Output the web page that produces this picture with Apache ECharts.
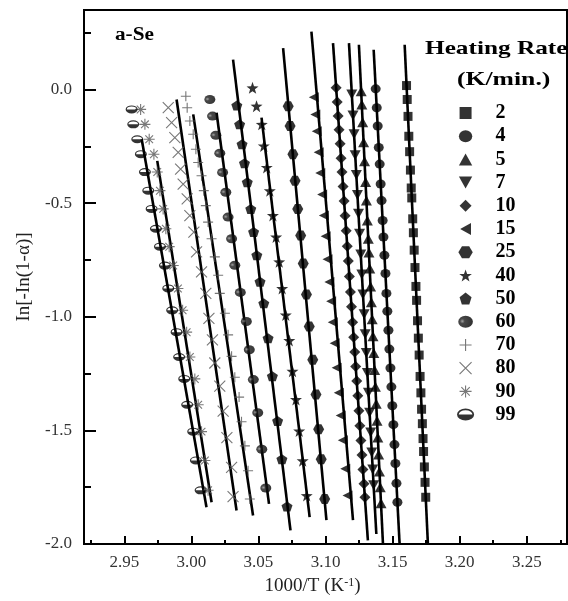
<!DOCTYPE html>
<html><head><meta charset="utf-8">
<script src="https://cdn.jsdelivr.net/npm/echarts@6/dist/echarts.min.js"></script>
<style>html,body{margin:0;padding:0;background:#fff}#c{width:568px;height:601px}</style>
</head><body><div id="c"></div>
<script>
// ---- data ----
const rates = ['2','4','5','7','10','15','25','40','50','60','70','80','90','99'];
const xMajorTicks = [2.95,3.00,3.05,3.10,3.15,3.20,3.25];
const xMinorTicks = [2.925,2.975,3.025,3.075,3.125,3.175,3.225,3.275];
const yMajorTicks = [-2.0,-1.5,-1.0,-0.5,0.0];
const yMinorTicks = [-1.75,-1.25,-0.75,-0.25,0.25];

const pts2 = [[3.1604,0.0175],[3.1609,-0.0438],[3.1615,-0.1182],[3.1621,-0.2057],[3.1627,-0.2735],[3.1633,-0.3545],[3.1639,-0.4333],[3.1643,-0.4770],[3.1650,-0.5689],[3.1655,-0.6302],[3.1661,-0.7068],[3.1667,-0.7834],[3.1674,-0.8665],[3.1679,-0.9278],[3.1686,-1.0175],[3.1692,-1.0941],[3.1698,-1.1685],[3.1705,-1.2626],[3.1711,-1.3348],[3.1716,-1.4070],[3.1722,-1.4705],[3.1727,-1.5361],[3.1731,-1.5930],[3.1737,-1.6608],[3.1742,-1.7287],[3.1747,-1.7943]];
const pts4 = [[3.1374,0.0031],[3.1382,-0.0801],[3.1389,-0.1606],[3.1397,-0.2551],[3.1404,-0.3282],[3.1411,-0.4158],[3.1418,-0.4888],[3.1426,-0.5764],[3.1432,-0.6490],[3.1439,-0.7295],[3.1447,-0.8096],[3.1454,-0.8972],[3.1461,-0.9759],[3.1469,-1.0591],[3.1476,-1.1422],[3.1484,-1.2254],[3.1491,-1.3085],[3.1498,-1.3917],[3.1506,-1.4748],[3.1514,-1.5624],[3.1521,-1.6455],[3.1529,-1.7330],[3.1536,-1.8162]];
const pts5 = [[3.1266,-0.0074],[3.1271,-0.0656],[3.1277,-0.1444],[3.1284,-0.2319],[3.1291,-0.3151],[3.1299,-0.4070],[3.1305,-0.4888],[3.1312,-0.5764],[3.1319,-0.6565],[3.1324,-0.7177],[3.1330,-0.7877],[3.1336,-0.8665],[3.1342,-0.9365],[3.1348,-1.0109],[3.1354,-1.0853],[3.1360,-1.1597],[3.1366,-1.2341],[3.1372,-1.3085],[3.1378,-1.3829],[3.1384,-1.4573],[3.1390,-1.5317],[3.1396,-1.6061],[3.1402,-1.6805],[3.1408,-1.7505],[3.1414,-1.8206]];
const pts7 = [[3.1196,-0.0219],[3.1205,-0.1138],[3.1213,-0.1969],[3.1221,-0.2888],[3.1230,-0.3764],[3.1238,-0.4639],[3.1246,-0.5470],[3.1254,-0.6346],[3.1263,-0.7265],[3.1271,-0.8140],[3.1279,-0.9015],[3.1288,-0.9891],[3.1296,-1.0766],[3.1304,-1.1597],[3.1312,-1.2473],[3.1320,-1.3348],[3.1329,-1.4223],[3.1337,-1.5098],[3.1345,-1.5974],[3.1352,-1.6718],[3.1359,-1.7418]];
const pts10 = [[3.1079,0.0074],[3.1087,-0.0547],[3.1094,-0.1160],[3.1101,-0.1772],[3.1109,-0.2385],[3.1116,-0.3020],[3.1123,-0.3632],[3.1131,-0.4267],[3.1139,-0.4902],[3.1146,-0.5558],[3.1154,-0.6214],[3.1162,-0.6893],[3.1170,-0.7549],[3.1178,-0.8228],[3.1186,-0.8906],[3.1194,-0.9562],[3.1202,-1.0241],[3.1210,-1.0897],[3.1218,-1.1554],[3.1225,-1.2188],[3.1233,-1.2823],[3.1241,-1.3479],[3.1249,-1.4136],[3.1256,-1.4792],[3.1264,-1.5449],[3.1272,-1.6083],[3.1279,-1.6718],[3.1287,-1.7352],[3.1294,-1.7943]];
const pts15 = [[3.0913,-0.0337],[3.0924,-0.1094],[3.0935,-0.1838],[3.0949,-0.2757],[3.0961,-0.3676],[3.0975,-0.4617],[3.0988,-0.5540],[3.1001,-0.6460],[3.1015,-0.7466],[3.1029,-0.8473],[3.1042,-0.9313],[3.1054,-1.0236],[3.1068,-1.1160],[3.1083,-1.2249],[3.1099,-1.3339],[3.1113,-1.4346],[3.1129,-1.5435],[3.1147,-1.6691],[3.1164,-1.7869]];
const pts25 = [[3.0722,-0.0731],[3.0736,-0.1606],[3.0757,-0.2845],[3.0773,-0.4013],[3.0793,-0.5252],[3.0815,-0.6420],[3.0834,-0.7659],[3.0858,-0.9015],[3.0879,-1.0429],[3.0905,-1.1891],[3.0929,-1.3422],[3.0949,-1.4954],[3.0968,-1.6267],[3.0994,-1.8018]];
const pts40 = [[3.0456,0.0074],[3.0486,-0.0731],[3.0525,-0.1532],[3.0540,-0.2481],[3.0562,-0.3427],[3.0585,-0.4451],[3.0608,-0.5545],[3.0632,-0.6490],[3.0655,-0.7584],[3.0677,-0.8753],[3.0704,-0.9921],[3.0730,-1.1042],[3.0754,-1.2398],[3.0780,-1.3641],[3.0804,-1.5024],[3.0830,-1.6337],[3.0860,-1.7869]];
const pts50 = [[3.0339,-0.0700],[3.0360,-0.1532],[3.0378,-0.2407],[3.0396,-0.3239],[3.0417,-0.4083],[3.0443,-0.5252],[3.0464,-0.6271],[3.0488,-0.7295],[3.0512,-0.8460],[3.0540,-0.9409],[3.0572,-1.0941],[3.0604,-1.2617],[3.0643,-1.4587],[3.0675,-1.6267],[3.0713,-1.8350]];
const pts60 = [[3.0138,-0.0438],[3.0158,-0.1168],[3.0183,-0.2013],[3.0212,-0.2801],[3.0233,-0.3646],[3.0257,-0.4521],[3.0274,-0.5615],[3.0300,-0.6565],[3.0324,-0.7733],[3.0365,-0.8928],[3.0410,-1.0210],[3.0432,-1.1453],[3.0462,-1.2766],[3.0495,-1.4223],[3.0525,-1.5829],[3.0555,-1.7536]];
const pts70 = [[2.9959,-0.0293],[2.9969,-0.0801],[2.9989,-0.1387],[3.0014,-0.1969],[3.0034,-0.2626],[3.0051,-0.3208],[3.0076,-0.3794],[3.0093,-0.4451],[3.0108,-0.5107],[3.0125,-0.5834],[3.0151,-0.6565],[3.0175,-0.7365],[3.0200,-0.8171],[3.0212,-0.8972],[3.0250,-0.9847],[3.0274,-1.0796],[3.0300,-1.1742],[3.0324,-1.2661],[3.0356,-1.3536],[3.0374,-1.4617],[3.0399,-1.5681],[3.0423,-1.6775],[3.0436,-1.8018]];
const pts80 = [[2.9828,-0.0801],[2.9853,-0.1457],[2.9877,-0.2114],[2.9902,-0.2770],[2.9920,-0.3501],[2.9939,-0.4158],[2.9969,-0.4814],[2.9989,-0.5545],[3.0019,-0.6271],[3.0039,-0.7147],[3.0076,-0.8022],[3.0108,-0.8972],[3.0131,-1.0066],[3.0157,-1.1015],[3.0175,-1.2035],[3.0212,-1.3055],[3.0237,-1.4149],[3.0265,-1.5317],[3.0300,-1.6630],[3.0311,-1.7912]];
const pts90 = [[2.9622,-0.0875],[2.9654,-0.1532],[2.9686,-0.2188],[2.9721,-0.2845],[2.9746,-0.3632],[2.9766,-0.4451],[2.9790,-0.5252],[2.9810,-0.6127],[2.9835,-0.6915],[2.9865,-0.7746],[2.9900,-0.8753],[2.9935,-0.9716],[2.9965,-1.0678],[2.9989,-1.1772],[3.0026,-1.2735],[3.0051,-1.3873],[3.0076,-1.5055],[3.0101,-1.6324],[3.0125,-1.7637]];
const pts99 = [[2.9555,-0.0875],[2.9567,-0.1532],[2.9597,-0.2188],[2.9624,-0.2845],[2.9654,-0.3632],[2.9679,-0.4451],[2.9704,-0.5252],[2.9736,-0.6127],[2.9766,-0.6915],[2.9803,-0.7746],[2.9828,-0.8753],[2.9857,-0.9716],[2.9890,-1.0678],[2.9909,-1.1772],[2.9947,-1.2735],[2.9969,-1.3873],[3.0014,-1.5055],[3.0034,-1.6324],[3.0069,-1.7637]];

// fitted straight lines (end points)
const fit2 = [[3.1590,0.1969],[3.1763,-1.9956]];
const fit4 = [[3.1359,0.1751],[3.1552,-1.9956]];
const fit5 = [[3.1249,0.1969],[3.1428,-1.9956]];
const fit7 = [[3.1175,0.2044],[3.1379,-1.9562]];
const fit10 = [[3.1056,0.2044],[3.1316,-1.9838]];
const fit15 = [[3.0895,0.2551],[3.1205,-1.8950]];
const fit25 = [[3.0684,0.1825],[3.1007,-1.8950]];
const fit40 = [[3.0523,-0.1239],[3.0882,-1.8818]];
const fit50 = [[3.0311,0.1313],[3.0739,-1.9400]];
const fit60 = [[3.0188,-0.1020],[3.0579,-1.8236]];
const fit70 = [[3.0014,-0.1094],[3.0460,-1.8744]];
const fit80 = [[2.9890,-0.0438],[3.0337,-1.8525]];
const fit90 = [[2.9746,-0.3138],[3.0151,-1.8162]];
const fit99 = [[2.9630,-0.2188],[3.0113,-1.8381]];

const pointSets = [pts2,pts4,pts5,pts7,pts10,pts15,pts25,pts40,pts50,pts60,pts70,pts80,pts90,pts99];
const fitSets = [fit2,fit4,fit5,fit7,fit10,fit15,fit25,fit40,fit50,fit60,fit70,fit80,fit90,fit99];

// ---- styles ----
const SERIF = '"Liberation Serif","Times New Roman",serif';
const black = {color:'#000'};
const thin = {color:'rgba(0,0,0,0)', borderColor:'#555', borderWidth:1.1};
const ball = {color: new echarts.graphic.RadialGradient(0.28, 0.45, 0.8, [
  {offset:0, color:'#8a8a8a'}, {offset:0.25, color:'#1a1a1a'}, {offset:1, color:'#000'}])};
const halfEllipse = 'path://M0,7A10,7 0 1,1 20,7A10,7 0 1,1 0,7Z M2,7A8,5 0 1,0 18,7A8,5 0 1,0 2,7Z M2,7L18,7A8,5 0 0,1 2,7Z';
const markerDefs = [
  {symbol:'path://M0,0L10,0L10,10L0,10Z', size:[9,9], style:black},
  {symbol:'path://M0,4.5A5,4.5 0 1,1 10,4.5A5,4.5 0 1,1 0,4.5Z', size:[10,9], style:black},
  {symbol:'path://M5,0L10,9L0,9Z', size:[11,10], style:black},
  {symbol:'path://M0,0L10,0L5,9Z', size:[11,10], style:black},
  {symbol:'path://M5,0L10,5L5,10L0,5Z', size:[11,11], style:black},
  {symbol:'path://M0,5L9,0L9,10Z', size:[10,10], style:black},
  {symbol:'path://M3,0L9,0L12,5L9,10L3,10L0,5Z', size:[11,10], style:black},
  {symbol:'path://M5,0L6.18,3.38L9.76,3.46L6.9,5.62L7.94,9.05L5,7L2.06,9.05L3.1,5.62L0.24,3.46L3.82,3.38Z', size:[12,12], style:black},
  {symbol:'path://M5,0L10,3.8L8.1,10L1.9,10L0,3.8Z', size:[11,10], style:black},
  {symbol:'path://M0,4.5A5.5,4.5 0 1,1 11,4.5A5.5,4.5 0 1,1 0,4.5Z', size:[11,9], style:ball},
  {symbol:'path://M5,0L5,10M0,5L10,5', size:[10,10], style:thin},
  {symbol:'path://M0,0L10,10M10,0L0,10', size:[11,11], style:thin},
  {symbol:'path://M5,0L5,10M0,5L10,5M1.5,1.5L8.5,8.5M8.5,1.5L1.5,8.5', size:[11,11], style:thin},
  {symbol:halfEllipse, size:[12,8], style:black}
];

const series = [];
rates.forEach((r,i)=>{
  series.push({name:'fit '+r, type:'line', data:fitSets[i], symbol:'none', silent:true,
    lineStyle:{color:'#000', width:2.6}, z:2, animation:false});
});
rates.forEach((r,i)=>{
  const m = markerDefs[i];
  series.push({name:r, type:'scatter', data:pointSets[i], symbol:m.symbol, symbolSize:m.size,
    itemStyle:m.style, z:3, animation:false});
});

const legendData = rates.map((r,i)=>{
  const m = markerDefs[i];
  return m.style===thin ? {name:r, itemStyle:{borderWidth:1.1, borderColor:'#555'}} : {name:r};
});

const chart = echarts.init(document.getElementById('c'), null, {renderer:'canvas'});
chart.setOption({
  animation:false,
  backgroundColor:'#fff',
  grid:{left:84, right:1, top:10, bottom:55, show:true, borderColor:'#000', borderWidth:2, backgroundColor:'transparent'},
  xAxis:[{
    type:'value', min:2.92, max:3.28,
    axisLine:{show:true, onZero:false, lineStyle:{color:'#000', width:2}},
    axisTick:{show:true, inside:true, length:8, customValues:xMajorTicks, lineStyle:{color:'#000', width:2}},
    axisLabel:{customValues:xMajorTicks, formatter:v=>v.toFixed(2), margin:10, fontSize:17, fontFamily:SERIF, color:'#333'},
    splitLine:{show:false},
    name:'1000/T (K{s|-1})', nameLocation:'middle', nameGap:33,
    nameTextStyle:{fontFamily:SERIF, fontSize:19, color:'#222', padding:[0,26,0,0],
      rich:{s:{fontFamily:SERIF, fontSize:12, color:'#222', verticalAlign:'top'}}}
  },{
    type:'value', min:2.92, max:3.28, position:'bottom',
    axisLine:{show:false, onZero:false},
    axisTick:{show:true, inside:true, length:4, customValues:xMinorTicks, lineStyle:{color:'#000', width:2}},
    axisLabel:{show:false}, splitLine:{show:false}
  }],
  yAxis:[{
    type:'value', min:-2.0, max:0.35,
    axisLine:{show:true, onZero:false, lineStyle:{color:'#000', width:2}},
    axisTick:{show:true, inside:true, length:12, customValues:yMajorTicks, lineStyle:{color:'#000', width:2}},
    axisLabel:{customValues:yMajorTicks, formatter:v=>v.toFixed(1), margin:12, fontSize:17, fontFamily:SERIF, color:'#333'},
    splitLine:{show:false},
    name:'In[-In(1-α)]', nameLocation:'middle', nameGap:50,
    nameTextStyle:{fontFamily:SERIF, fontSize:19, color:'#222'}
  },{
    type:'value', min:-2.0, max:0.35, position:'left',
    axisLine:{show:false, onZero:false},
    axisTick:{show:true, inside:true, length:7, customValues:yMinorTicks, lineStyle:{color:'#000', width:2}},
    axisLabel:{show:false}, splitLine:{show:false}
  }],
  legend:{
    data:legendData, orient:'vertical', left:457, top:103, padding:0,
    itemWidth:50, itemHeight:12, itemGap:3.2, selectedMode:false,
    textStyle:{fontFamily:SERIF, fontWeight:'bold', fontSize:20, lineHeight:19, color:'#000'}
  },
  graphic:[
    {type:'text', x:115, y:35, scaleX:1.18, style:{text:'a-Se', fontFamily:SERIF, fontWeight:'bold', fontSize:18, fill:'#000', verticalAlign:'middle', align:'left', textVerticalAlign:'middle'}},
    {type:'text', x:425, y:49, scaleX:1.33, style:{text:'Heating Rate', fontFamily:SERIF, fontWeight:'bold', fontSize:19, fill:'#000', verticalAlign:'middle', align:'left', textVerticalAlign:'middle'}},
    {type:'text', x:457, y:80, scaleX:1.35, style:{text:'(K/min.)', fontFamily:SERIF, fontWeight:'bold', fontSize:19, fill:'#000', verticalAlign:'middle', align:'left', textVerticalAlign:'middle'}}
  ],
  series:series
});
</script>
</body></html>
